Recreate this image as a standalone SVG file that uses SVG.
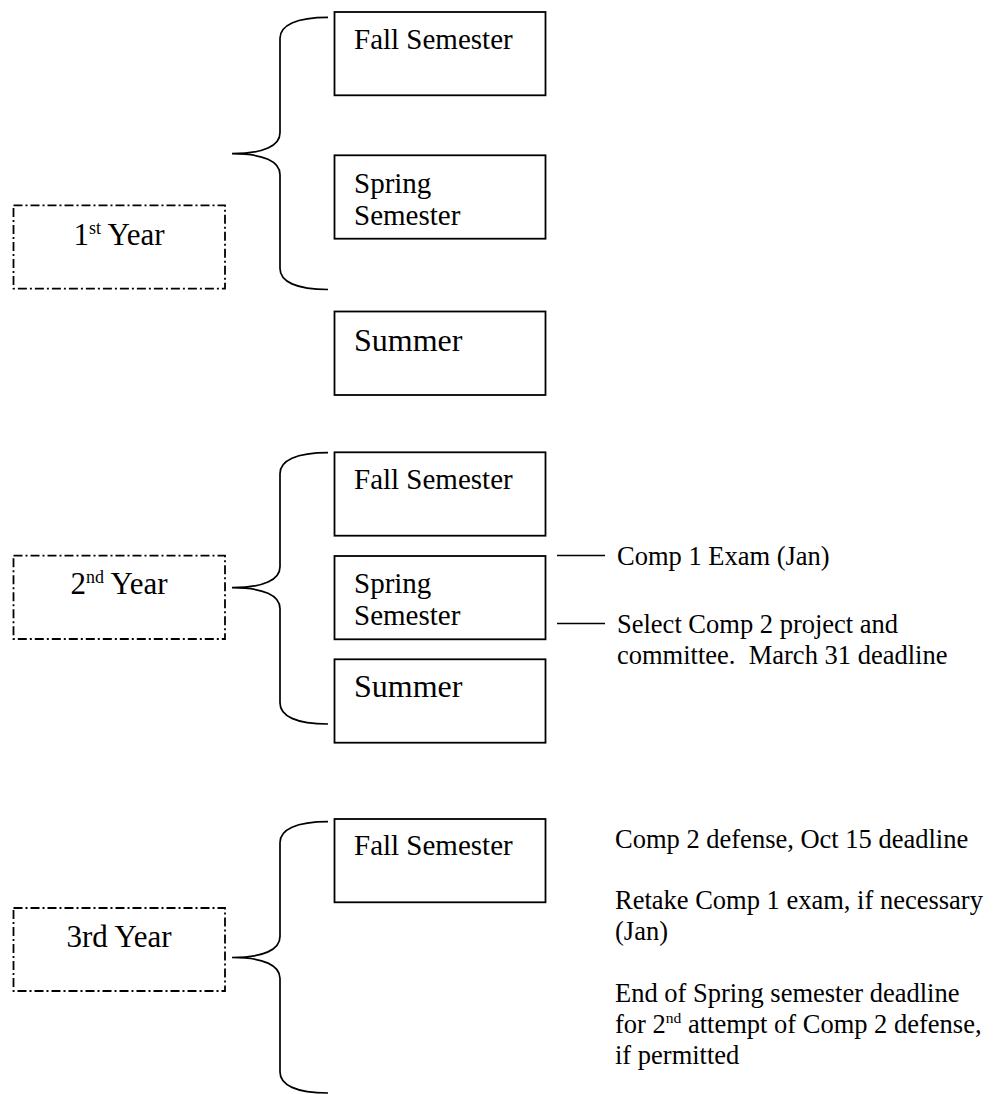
<svg xmlns="http://www.w3.org/2000/svg" width="1000" height="1094" viewBox="0 0 1000 1094">
<style>
text{font-family:"Liberation Serif","Times New Roman",serif;fill:#000}
.box{fill:#fff;stroke:#000;stroke-width:1.8}
.year{fill:#fff;stroke:#000;stroke-width:1.8;stroke-dasharray:9 3 2 3}
.brace{fill:none;stroke:#000;stroke-width:1.7}
.tick{stroke:#000;stroke-width:1.5}
.s29{font-size:29px}
.s32{font-size:32px}
.s31{font-size:31px}
.note{font-size:26.5px;white-space:pre}
</style>
<rect width="1000" height="1094" fill="#fff"/>
<g id="connectors">
<path class="brace" d="M328,17.3 C296,17.3 280,25.3 280,38.3 L280,132.7 C280,145.7 264,153.7 232,153.7 C264,153.7 280,161.7 280,174.7 L280,268.5 C280,281.5 296,289.5 328,289.5"/>
<path class="brace" d="M328,452.7 C296,452.7 280,460.7 280,473.7 L280,566.7 C280,579.7 264,587.7 232,587.7 C264,587.7 280,595.7 280,608.7 L280,703 C280,716 296,724 328,724"/>
<path class="brace" d="M328,821.7 C296,821.7 280,829.7 280,842.7 L280,936.5 C280,949.5 264,957.5 232,957.5 C264,957.5 280,965.5 280,978.5 L280,1072 C280,1085 296,1093 328,1093"/>
<line class="tick" x1="557" y1="555.5" x2="605" y2="555.5"/>
<line class="tick" x1="557" y1="623.5" x2="605" y2="623.5"/>
</g>
<g id="year1">
<rect class="year" x="13.5" y="205.3" width="211.5" height="83.4"/>
<text class="s31" x="119" y="245" text-anchor="middle">1<tspan font-size="18" dy="-11">st</tspan><tspan dy="11"> Year</tspan></text>
</g>
<g id="y1-fall">
<rect class="box" x="334.5" y="12" width="211" height="83.3"/>
<text class="s29" x="354" y="49.3">Fall Semester</text>
</g>
<g id="y1-spring">
<rect class="box" x="334.5" y="155.3" width="211" height="83.4"/>
<text class="s29" x="354" y="192.7">Spring</text>
<text class="s29" x="354" y="225">Semester</text>
</g>
<g id="y1-summer">
<rect class="box" x="334.5" y="311.5" width="211" height="83.5"/>
<text class="s32" x="354" y="350.7">Summer</text>
</g>
<g id="year2">
<rect class="year" x="13.5" y="555.7" width="211.5" height="83.3"/>
<text class="s31" x="119" y="594.3" text-anchor="middle">2<tspan font-size="18" dy="-11">nd</tspan><tspan dy="11"> Year</tspan></text>
</g>
<g id="y2-fall">
<rect class="box" x="334.5" y="452.3" width="211" height="83.4"/>
<text class="s29" x="354" y="489">Fall Semester</text>
</g>
<g id="y2-spring">
<rect class="box" x="334.5" y="556" width="211" height="83.3"/>
<text class="s29" x="354" y="593.3">Spring</text>
<text class="s29" x="354" y="625">Semester</text>
</g>
<g id="y2-summer">
<rect class="box" x="334.5" y="659.3" width="211" height="83.4"/>
<text class="s32" x="354" y="697.3">Summer</text>
</g>
<g id="y2-notes">
<text class="note" x="617" y="565">Comp 1 Exam (Jan)</text>
<text class="note" x="617" y="633">Select Comp 2 project and</text>
<text class="note" x="617" y="664">committee.  March 31 deadline</text>
</g>
<g id="year3">
<rect class="year" x="13.5" y="908" width="211.5" height="83"/>
<text class="s31" x="119" y="946.7" text-anchor="middle">3rd Year</text>
</g>
<g id="y3-fall">
<rect class="box" x="334.5" y="819" width="211" height="83.3"/>
<text class="s29" x="354" y="855">Fall Semester</text>
</g>
<g id="y3-notes">
<text class="note" x="615" y="848">Comp 2 defense, Oct 15 deadline</text>
<text class="note" x="615" y="909">Retake Comp 1 exam, if necessary</text>
<text class="note" x="615" y="940">(Jan)</text>
<text class="note" x="615" y="1002">End of Spring semester deadline</text>
<text class="note" x="615" y="1033">for 2<tspan font-size="15.5" dy="-10">nd</tspan><tspan dy="10"> attempt of Comp 2 defense,</tspan></text>
<text class="note" x="615" y="1064">if permitted</text>
</g>
</svg>
